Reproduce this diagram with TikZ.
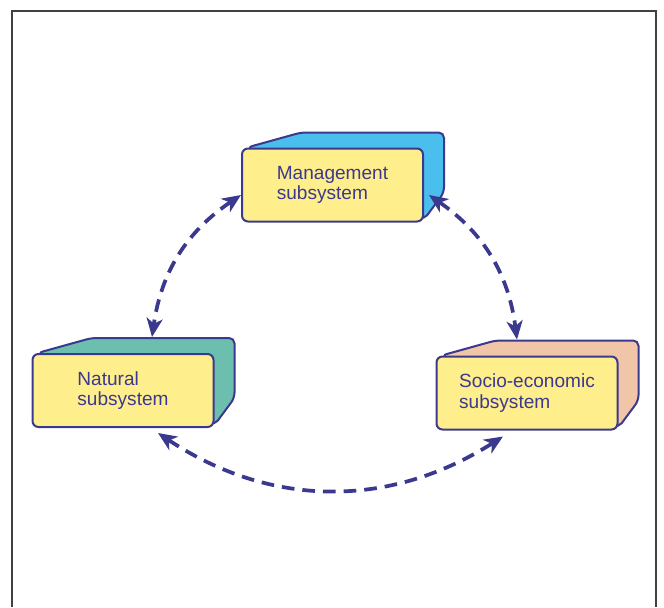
\documentclass[tikz,border=0pt]{standalone}
\usepackage{fontspec}
\setmainfont{Liberation Sans}
\usetikzlibrary{arrows.meta,calc,backgrounds}

\definecolor{boxline}{RGB}{59,57,142}
\definecolor{boxyellow}{RGB}{254,238,140}
\definecolor{mgmtblue}{RGB}{74,190,237}
\definecolor{natteal}{RGB}{108,190,174}
\definecolor{socpeach}{RGB}{241,197,167}

\tikzset{every picture/.style={line width=0.75pt}}
\tikzset{
  subsys/.style={draw=boxline, fill=boxyellow, line width=1.5pt, rounded corners=4.5pt,
    minimum width=135.75pt, minimum height=54.75pt, inner sep=0pt, align=left,
    text=boxline, font=\fontsize{14.3}{15.2}\selectfont},
  link/.style={draw=boxline, line width=2.8pt, dash pattern={on 9.5pt off 6pt},
    {Stealth[length=14pt,width=12pt,inset=4pt]}-{Stealth[length=14pt,width=12pt,inset=4pt]}},
}

% back and side face of a box
\newcommand{\subsysback}[2]{%
  \draw[boxline, line width=1.5pt, fill=#2, rounded corners=4pt]
    ($(#1.north west)+(6,0)$) -- ($(#1.north west)+(60,-15)$) -- ($(#1.north east)+(20,-15)$)
    -- ($(#1.south east)+(20,-30)$) -- ($(#1.south east)+(0,-3)$) -- cycle ;}

\begin{document}
\begin{tikzpicture}[x=0.75pt,y=0.75pt,yscale=-1,xscale=1]
\useasboundingbox (0,0) rectangle (664,607);

%Shape: Frame
\draw [color=black!75, line width=1pt]  (12,607) -- (12,11) -- (656,11) -- (656,607) ;

% Boxes
\node [subsys] (mgmt) at (332.5,185) {Management\\subsystem};
\node [subsys] (nat) at (123,390.5) {Natural\\subsystem};
\node [subsys] (soc) at (527,393) {Socio-economic\\subsystem};

\begin{scope}[on background layer]
\subsysback{mgmt}{mgmtblue}
\subsysback{nat}{natteal}
\subsysback{soc}{socpeach}
\end{scope}

% Links
\draw [link] ($(mgmt.west)+(0,10)$) to [bend left=24] ($(nat.north)+(29,-16)$) ;
\draw [link] ($(mgmt.east)+(5,10)$) to [bend right=24] ($(soc.north)+(-10,-16)$) ;
\draw [link] ($(nat.south)+(35,5)$) to [bend left=33] ($(soc.south)+(-24,6)$) ;

\end{tikzpicture}
\end{document}
